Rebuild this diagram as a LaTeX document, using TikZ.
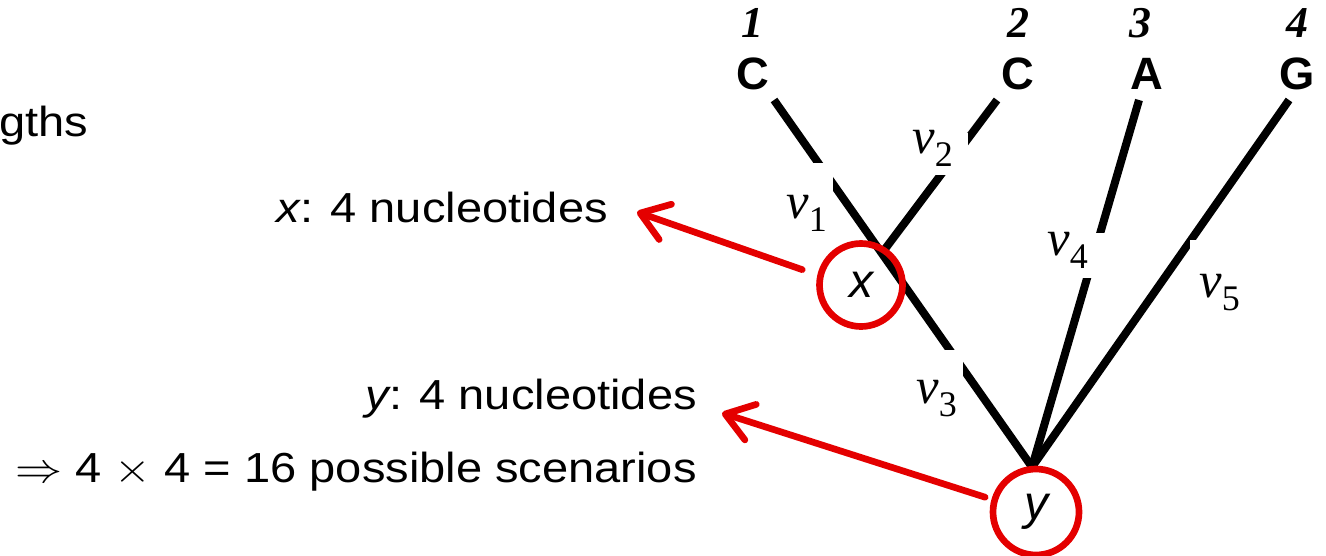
\RequirePackage{fix-cm}
\documentclass[tikz,border=0pt]{standalone}
\usepackage{fontspec}
\setmainfont{Liberation Sans}
\newfontfamily\serifont{Liberation Serif}
\usetikzlibrary{arrows.meta,calc}
\definecolor{arrred}{RGB}{228,0,0}
\newcommand{\vl}[1]{v\raisebox{-10pt}{\fontsize{27}{27}\selectfont\upshape #1}}
\begin{document}
\begin{tikzpicture}[x=0.75pt,y=-0.75pt,
  branch/.style={line width=6pt},
  gapbox/.style={fill=white},
  redarrow/.style={draw=arrred,line width=5pt,line cap=round,
    -{Straight Barb[length=20pt,width=28pt,round]}},
  circ/.style={circle,draw=arrred,line width=5pt,inner sep=0pt,
    font=\fontsize{36}{36}\selectfont\itshape},
  leaf/.style={inner sep=0pt,font=\fontsize{34}{34}\selectfont\bfseries},
  leafnum/.style={inner sep=0pt,font=\fontsize{33}{33}\selectfont\serifont\bfseries\itshape},
  txt/.style={inner sep=0pt,font=\fontsize{31.5}{36}\selectfont},
  vlab/.style={inner sep=0pt,anchor=base west,font=\fontsize{38}{38}\selectfont\serifont\itshape}
]
\useasboundingbox (0,0) rectangle (1326,556);

% leaves
\node[leafnum] (n1) at (752,23) {1};
\node[leafnum] (n2) at (1018,23) {2};
\node[leafnum] (n3) at (1140,23) {3};
\node[leafnum] (n4) at (1297,23) {4};
\node[leaf] (C1) at (753,74) {C};
\node[leaf] (C2) at (1018,74) {C};
\node[leaf] (A3) at (1147,74) {A};
\node[leaf] (G4) at (1297,74) {G};

% branch ends
\coordinate (t1) at (774,100);
\coordinate (t2) at (997,100);
\coordinate (t3) at (1139,100);
\coordinate (t4) at (1289,100);
\coordinate (jx) at (882,253);
\coordinate (jy) at (1032,467);

\draw[branch] (t1) -- (jy);
\draw[branch] (t2) -- (jx);
\draw[branch] (t3) -- (jy);
\draw[branch] (t4) -- (jy);

% label gaps
\fill[gapbox] (780,163) rectangle (833,235);
\fill[gapbox] (900,133) rectangle (968,175);
\fill[gapbox] (905,350) rectangle (963,420);
\fill[gapbox] (1040,233) rectangle (1110,278);
\fill[gapbox] (1190,240) rectangle (1250,320);

\node[vlab] (v1) at (786,218) {\vl{1}};
\node[vlab] (v2) at (912,153) {\vl{2}};
\node[vlab] (v3) at (916,403) {\vl{3}};
\node[vlab] (v4) at (1047,255) {\vl{4}};
\node[vlab] (v5) at (1199,297) {\vl{5}};

% internal nodes
\node[circ,minimum size=62.25pt] (xc) at (861,285) {x};
\node[circ,minimum size=64.5pt] (yc) at (1036,512) {y};

% texts
\node[txt,anchor=base west] (gths) at (-1,137) {\scalebox{1.12}[1]{gths}};
\node[txt,anchor=base east] (xt) at (608,222) {\scalebox{1.12}[1]{\itshape x\upshape: 4 nucleotides}};
\node[txt,anchor=base east] (yt) at (697,409) {\scalebox{1.12}[1]{\itshape y\upshape: 4 nucleotides}};
\node[txt,anchor=base east] (st) at (697,482) {\scalebox{1.12}[1]{$\Rightarrow$ 4 $\times$ 4 = 16 possible scenarios}};

% arrows
\coordinate (xtip) at (637,212);
\coordinate (ytip) at (722,413);
\draw[redarrow,shorten <=12pt] (xc.167) -- (xtip);
\draw[redarrow,shorten <=5pt] (yc.164.6) -- (ytip);
\end{tikzpicture}
\end{document}
